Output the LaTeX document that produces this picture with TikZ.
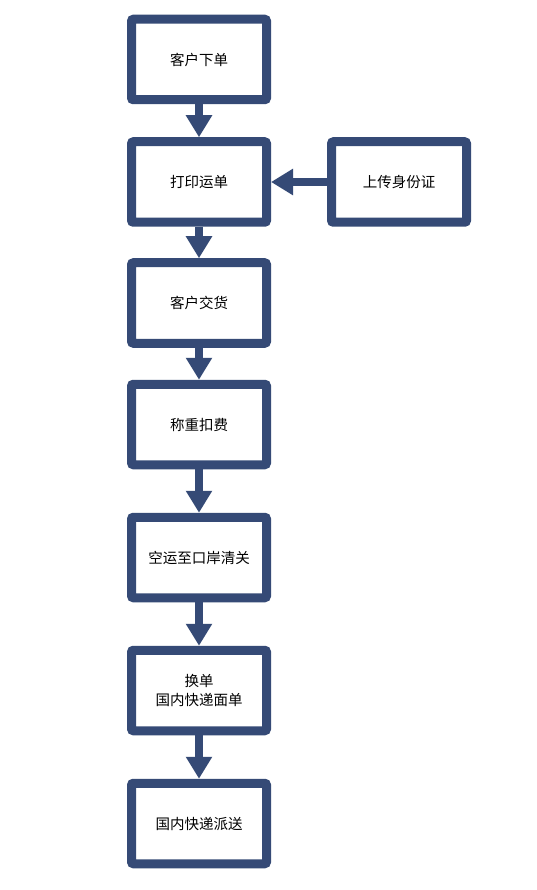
\documentclass[tikz,border=0pt]{standalone}
\usepackage{fontspec}
\setmainfont{Noto Sans CJK SC}
\usetikzlibrary{arrows.meta}
\definecolor{boxblue}{HTML}{354A76}
\tikzset{
  flowbox/.style={draw=boxblue, line width=9pt, fill=white, rounded corners=2pt,
    minimum width=135pt, minimum height=80.5pt, inner sep=0pt,
    align=center, font=\fontsize{14.5pt}{19pt}\selectfont, text=black},
  flowarrow/.style={draw=boxblue, line width=8.5pt,
    -{Triangle[width=25pt,length=22pt,fill=boxblue]}},
}
\begin{document}
\begin{tikzpicture}[x=1pt,y=1pt]
\useasboundingbox (0,0) rectangle (536,-890);
\fill[white] (0,0) rectangle (536,-890);
\node[flowbox] (n1) at (199,-59.5) {客户下单};
\node[flowbox] (n2) at (199,-182) {打印运单};
\node[flowbox] (side) at (399,-182) {上传身份证};
\node[flowbox] (n3) at (199,-303) {客户交货};
\node[flowbox] (n4) at (199,-424.5) {称重扣费};
\node[flowbox] (n5) at (199,-557.5) {空运至口岸清关};
\node[flowbox] (n6) at (199,-690.5) {换单\\国内快递面单};
\node[flowbox] (n7) at (199,-823.5) {国内快递派送};
\draw[flowarrow] (n1) -- (n2);
\draw[flowarrow] (side) -- (n2);
\draw[flowarrow] (n2) -- (n3);
\draw[flowarrow] (n3) -- (n4);
\draw[flowarrow] (n4) -- (n5);
\draw[flowarrow] (n5) -- (n6);
\draw[flowarrow] (n6) -- (n7);
\end{tikzpicture}
\end{document}
